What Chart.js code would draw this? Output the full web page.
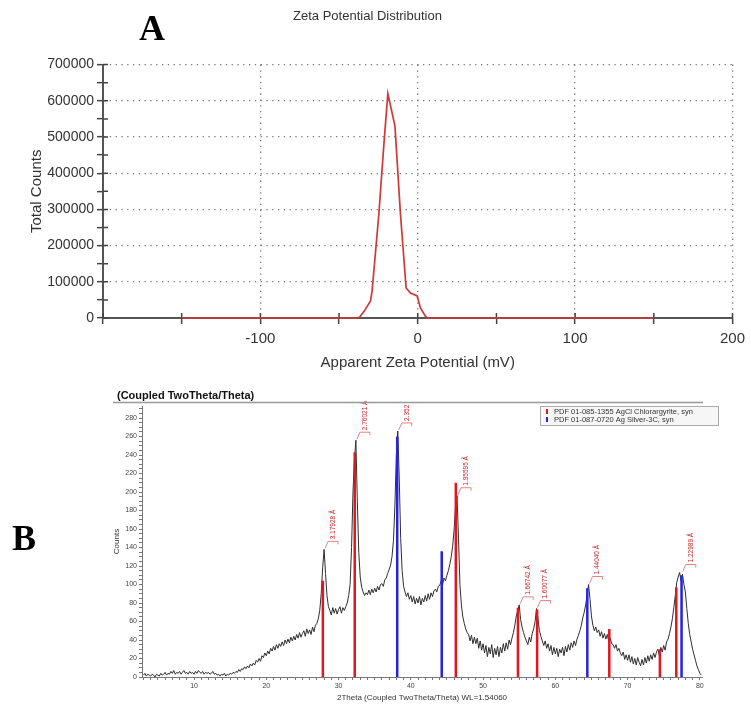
<!DOCTYPE html>
<html>
<head>
<meta charset="utf-8">
<script src="https://cdn.jsdelivr.net/npm/chart.js@4.4.1/dist/chart.umd.min.js"></script>
<style>
  body { margin: 0; background: #fff; }
  #wrap { position: relative; width: 751px; height: 706px; }
  canvas { position: absolute; left: 0; }
</style>
</head>
<body>
<div id="wrap">
  <canvas id="zeta" width="751" height="372" style="top:0"></canvas>
  <canvas id="xrd" width="751" height="334" style="top:372px"></canvas>
</div>
<script>
// --- panel A : zeta potential distribution
const zetaMv     = [-150, -40, -37, -34, -30, -29, -27, -24.7, -21.5, -19, -14.5, -11, -7.4, -4.6, -0.4, 1.7, 4.9, 6, 150];
const zetaCounts = [0, 0, 2000, 19000, 47000, 75000, 174000, 288000, 481000, 620000, 531000, 288000, 83000, 69000, 61000, 28000, 5000, 0, 0];
const zetaTickLabels = [-100, 0, 100, 200];

// --- panel B : XRD pattern, counts every 0.2 deg from 3.0 deg
const thetaStart = 3.0;
const thetaStep = 0.2;
const xrdCounts = [
  2, 4, 1, 3, 2,      // 3
  1, 3, 2, 0, 3,      // 4
  2, 1, 4, 2, 3,      // 5
  5, 2, 4, 3, 6,      // 6
  4, 7, 3, 5, 4,      // 7
  6, 3, 5, 7, 4,      // 8
  5, 3, 6, 4, 5,      // 9
  3, 6, 4, 7, 5,      // 10
  4, 6, 3, 5, 4,      // 11
  5, 3, 4, 6, 3,      // 12
  4, 2, 3, 1, 3,      // 13
  2, 4, 1, 3, 2,      // 14
  4, 3, 5, 4, 6,      // 15
  5, 8, 6, 9, 8,      // 16
  11, 9, 12, 10, 14,  // 17
  12, 15, 13, 18, 16, // 18
  20, 17, 23, 21, 26, // 19
  23, 28, 25, 31, 28, // 20
  33, 29, 35, 31, 36, // 21
  33, 38, 34, 40, 36, // 22
  41, 37, 43, 39, 44, // 23
  40, 46, 42, 48, 43, // 24
  47, 50, 44, 52, 47, // 25
  51, 46, 54, 49, 56, // 26
  58, 63, 72, 90, 118, // 27
  138, 112, 88, 76, 72, // 28
  67, 75, 69, 74, 68, // 29
  73, 76, 69, 75, 72, // 30
  76, 80, 88, 100, 140, // 31
  200, 235, 256, 190, 135, // 32
  108, 97, 92, 88, 91, // 33
  89, 94, 89, 95, 91, // 34
  96, 92, 98, 94, 100, // 35
  101, 98, 105, 107, 112, // 36
  116, 121, 130, 148, 185, // 37
  240, 266, 215, 150, 115, // 38
  98, 92, 87, 91, 84, // 39
  88, 81, 87, 79, 85, // 40
  80, 87, 78, 85, 81, // 41
  88, 82, 90, 84, 91, // 42
  87, 93, 95, 92, 98, // 43
  99, 104, 100, 107, 104, // 44
  110, 115, 122, 130, 142, // 45
  160, 185, 196, 150, 100, // 46
  78, 65, 58, 52, 48, // 47
  46, 39, 45, 36, 43, // 48
  36, 42, 31, 39, 29, // 49
  36, 26, 34, 22, 32, // 50
  25, 35, 21, 31, 24, // 51
  33, 22, 32, 26, 36, // 52
  28, 37, 30, 40, 35, // 53
  42, 48, 56, 66, 72, // 54
  78, 62, 54, 48, 43, // 55
  39, 35, 43, 38, 47, // 56
  52, 60, 74, 63, 50, // 57
  44, 39, 34, 39, 31, // 58
  36, 28, 34, 24, 32, // 59
  25, 31, 22, 30, 26, // 60
  32, 23, 33, 27, 35, // 61
  29, 37, 32, 39, 34, // 62
  41, 45, 50, 56, 64, // 63
  70, 78, 88, 100, 84, // 64
  66, 56, 50, 54, 48, // 65
  51, 44, 49, 42, 47, // 66
  41, 46, 38, 42, 36, // 67
  35, 31, 35, 28, 31, // 68
  26, 23, 27, 19, 24, // 69
  18, 24, 16, 22, 14, // 70
  20, 13, 21, 16, 12, // 71
  19, 13, 21, 15, 23, // 72
  17, 24, 19, 26, 21, // 73
  27, 30, 23, 32, 27, // 74
  34, 29, 38, 41, 47, // 75
  54, 63, 75, 88, 102, // 76
  108, 113, 104, 111, 100, // 77
  92, 74, 58, 46, 38, // 78
  30, 24, 18, 12, 8,  // 79
  4, 2                // 80
];

// reference patterns (sticks)
const agclName = 'PDF 01-085-1355 AgCl Chlorargyrite, syn';
const agclTheta  = [27.83, 32.24, 46.23, 54.83, 57.48, 67.47, 74.47, 76.74];
const agclCounts = [104, 243, 210, 75, 73, 52, 30, 97];
const agName = 'PDF 01-087-0720 Ag Silver-3C, syn';
const agTheta  = [38.12, 44.28, 64.43, 77.47];
const agCounts = [260, 136, 96, 110];

// d-spacing labels on the peaks
const peakTheta  = [28.0, 32.4, 38.2, 46.4, 55.0, 57.4, 64.6, 77.5];
const peakTop    = [138, 256, 266, 196, 78, 74, 100, 113];
const peakText   = ['3.17928 Å', '2.76021 Å', '2.352', '1.95595 Å', '1.66742 Å', '1.60077 Å', '1.44040 Å', '1.22989 Å'];

const SANS = '"Liberation Sans", Arial, sans-serif';
Chart.defaults.font.family = SANS;

const panelLetter = (letter, x, y) => ({
  id: 'letter' + letter,
  afterDraw(chart) {
    const ctx = chart.ctx;
    ctx.save();
    ctx.font = 'bold 36px "Liberation Serif", "Times New Roman", serif';
    ctx.fillStyle = '#000';
    ctx.textBaseline = 'alphabetic';
    ctx.fillText(letter, x, y);
    ctx.restore();
  }
});

// tick marks of panel A cross the axis line: add the inner half
const innerTicks = {
  id: 'innerTicks',
  beforeDatasetsDraw(chart) {
    const {ctx, scales: {x, y}} = chart;
    ctx.save();
    ctx.strokeStyle = '#444';
    ctx.lineWidth = 1.5;
    ctx.beginPath();
    x.ticks.forEach(t => {
      const px = x.getPixelForValue(t.value);
      ctx.moveTo(px, y.bottom);
      ctx.lineTo(px, y.bottom - 5);
    });
    y.ticks.forEach(t => {
      const py = y.getPixelForValue(t.value);
      ctx.moveTo(x.left, py);
      ctx.lineTo(x.left + 5, py);
    });
    ctx.stroke();
    ctx.restore();
  }
};

const setupZeta = () => {
  const ctxt = document.getElementById('zeta').getContext('2d');
  new Chart(ctxt, {
    type: 'line',
    data: {
      datasets: [{
        data: zetaMv.map((x, i) => ({x, y: zetaCounts[i]})),
        borderColor: '#d03838',
        borderWidth: 1.7,
        pointRadius: 0,
        tension: 0,
        clip: false
      }]
    },
    options: {
      responsive: false,
      animation: false,
      events: [],
      layout: {padding: {left: 0, right: 16, top: 0, bottom: 0}},
      plugins: {
        legend: {display: false},
        tooltip: {enabled: false},
        title: {
          display: true,
          text: 'Zeta Potential Distribution',
          color: '#333',
          font: {size: 13, weight: 'normal'},
          padding: {top: 9, bottom: 40}
        }
      },
      scales: {
        x: {
          type: 'linear', min: -200, max: 200,
          ticks: {
            stepSize: 50, autoSkip: false, maxRotation: 0, color: '#333', font: {size: 15}, padding: 6,
            callback: v => zetaTickLabels.includes(v) ? String(v) : ''
          },
          grid: {
            color: c => (c.tick && c.tick.value % 100 === 0) ? '#777' : 'rgba(0,0,0,0)',
            lineWidth: 1.3, tickLength: 6, tickColor: '#444', tickWidth: 1.5
          },
          border: {display: true, color: '#555', width: 2, dash: [1.3, 4.5]},
          title: {display: true, text: 'Apparent Zeta Potential (mV)', color: '#333', font: {size: 15}, padding: {top: 0, bottom: 0}},
          afterFit: s => { s.height = 54; }
        },
        y: {
          min: 0, max: 700000,
          ticks: {
            stepSize: 50000, autoSkip: false, color: '#333', font: {size: 14}, padding: 3,
            callback: v => v % 100000 === 0 ? String(v) : ''
          },
          grid: {
            color: c => (c.tick && c.tick.value % 100000 === 0) ? '#777' : 'rgba(0,0,0,0)',
            lineWidth: 1.3, tickLength: 6, tickColor: '#444', tickWidth: 1.5
          },
          border: {display: true, color: '#555', width: 2, dash: [1.3, 4.5]},
          title: {display: true, text: 'Total Counts', color: '#333', font: {size: 15}, padding: {top: 28, bottom: 0}},
          afterFit: s => { s.width = 103; }
        }
      }
    },
    plugins: [innerTicks, panelLetter('A', 139, 40)]
  });
};

const stickData = (thetas, heights) =>
  thetas.flatMap((t, i) => [{x: t, y: 0}, {x: t, y: heights[i]}, {x: t, y: null}]);

const peakLabels = {
  id: 'peakLabels',
  afterDatasetsDraw(chart) {
    const {ctx, scales: {x, y}} = chart;
    ctx.save();
    ctx.strokeStyle = '#d66';
    ctx.fillStyle = '#c8232a';
    ctx.lineWidth = 0.8;
    ctx.font = '6.5px ' + SANS;
    ctx.textBaseline = 'middle';
    peakTheta.forEach((t, i) => {
      const px = x.getPixelForValue(t);
      const py = y.getPixelForValue(peakTop[i]);
      ctx.beginPath();
      ctx.moveTo(px + 1, py - 1);
      ctx.lineTo(px + 4, py - 8);
      ctx.lineTo(px + 14, py - 8);
      ctx.lineTo(px + 14, py - 5);
      ctx.stroke();
      ctx.save();
      ctx.translate(px + 9, py - 10);
      ctx.rotate(-Math.PI / 2);
      ctx.fillText(peakText[i], 0, 0);
      ctx.restore();
    });
    ctx.restore();
  }
};

const xrdDecor = {
  id: 'xrdDecor',
  afterDraw(chart) {
    const ctx = chart.ctx;
    ctx.save();
    // header
    ctx.fillStyle = '#111';
    ctx.font = 'bold 11px ' + SANS;
    ctx.textBaseline = 'alphabetic';
    ctx.fillText('(Coupled TwoTheta/Theta)', 117, 27);
    ctx.strokeStyle = '#999';
    ctx.lineWidth = 1.5;
    ctx.beginPath();
    ctx.moveTo(113, 30.5);
    ctx.lineTo(703, 30.5);
    ctx.stroke();
    // legend box
    const ds = chart.data.datasets;
    ctx.fillStyle = '#f6f6f6';
    ctx.fillRect(540, 34.5, 178, 19);
    ctx.strokeStyle = '#aaa';
    ctx.lineWidth = 1;
    ctx.strokeRect(540.5, 34.5, 178, 19);
    ctx.font = '7.5px ' + SANS;
    ctx.textBaseline = 'middle';
    [0, 1].forEach(k => {
      const cy = 39.5 + k * 8;
      ctx.fillStyle = ds[k].borderColor;
      ctx.fillRect(546, cy - 2.5, 2, 5);
      ctx.fillStyle = '#333';
      ctx.fillText(ds[k].label, 554, cy);
    });
    ctx.restore();
  }
};

const setupXrd = () => {
  const ctxt = document.getElementById('xrd').getContext('2d');
  new Chart(ctxt, {
    type: 'line',
    data: {
      datasets: [
        {label: agclName, data: stickData(agclTheta, agclCounts), borderColor: '#e3161d', borderWidth: 2.5, pointRadius: 0, spanGaps: false, order: 0},
        {label: agName, data: stickData(agTheta, agCounts), borderColor: '#2424e0', borderWidth: 2.5, pointRadius: 0, spanGaps: false, order: 0},
        {
          label: 'Counts',
          data: xrdCounts.map((c, i) => ({x: +(thetaStart + i * thetaStep).toFixed(1), y: c})),
          borderColor: '#2e2e2e', borderWidth: 1, pointRadius: 0, tension: 0, order: 1
        }
      ]
    },
    options: {
      responsive: false,
      animation: false,
      events: [],
      layout: {padding: {left: 0, right: 49, top: 34, bottom: 0}},
      plugins: {legend: {display: false}, tooltip: {enabled: false}},
      scales: {
        x: {
          type: 'linear', min: 2.8, max: 80.3,
          ticks: {
            stepSize: 1, includeBounds: false, autoSkip: false, maxRotation: 0, color: '#444', font: {size: 7}, padding: 2,
            callback: v => v % 10 === 0 ? String(v) : ''
          },
          grid: {drawOnChartArea: false, tickLength: 3, tickColor: '#777'},
          border: {display: true, color: '#777', width: 1},
          title: {display: true, text: '2Theta (Coupled TwoTheta/Theta) WL=1.54060', color: '#333', font: {size: 8}, padding: {top: 0, bottom: 3}},
          afterFit: s => { s.height = 29; }
        },
        y: {
          min: 0, max: 293,
          ticks: {
            stepSize: 5, includeBounds: false, autoSkip: false, color: '#444', font: {size: 7}, padding: 2,
            callback: v => v % 20 === 0 ? String(v) : ''
          },
          grid: {drawOnChartArea: false, tickLength: 3, tickColor: '#777'},
          border: {display: true, color: '#777', width: 1},
          title: {display: true, text: 'Counts', color: '#333', font: {size: 8}, padding: {top: 112, bottom: 0}},
          afterFit: s => { s.width = 142; }
        }
      }
    },
    plugins: [peakLabels, xrdDecor, panelLetter('B', 12, 178)]
  });
};

window.addEventListener('DOMContentLoaded', () => {
  setupZeta();
  setupXrd();
});
</script>
</body>
</html>
